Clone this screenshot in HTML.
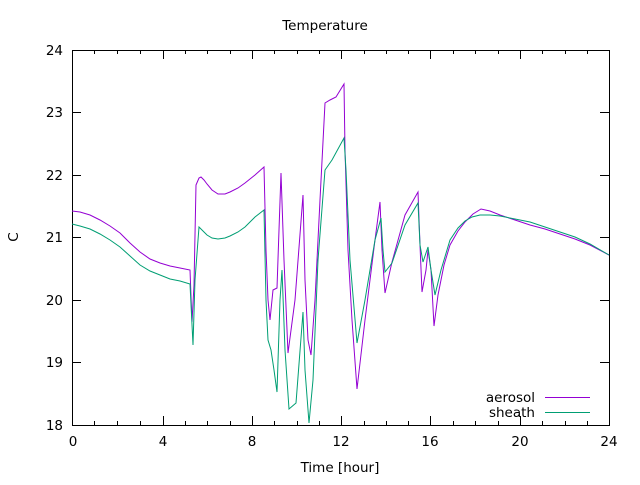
<!DOCTYPE html><html><head><style>body{margin:0;background:#fff}svg{font-family:"DejaVu Sans","Liberation Sans",sans-serif}</style></head><body>
<svg width="640" height="480" viewBox="0 0 640 480" font-size="13.5">
<rect width="640" height="480" fill="#fff"/>
<g stroke="#000" stroke-width="1" fill="none">
<rect x="72.5" y="50.5" width="537" height="375"/>
<path d="M72 50.5h9M72 112.5h9M72 175.5h9M72 237.5h9M72 300.5h9M72 362.5h9M609 50.5h-9M609 112.5h-9M609 175.5h-9M609 237.5h-9M609 300.5h-9M609 362.5h-9"/>
<path d="M163.5 425v-9M252.5 425v-9M341.5 425v-9M430.5 425v-9M520.5 425v-9M163.5 50v9M252.5 50v9M341.5 50v9M430.5 50v9M520.5 50v9"/>
<path d="M94.5 425v-4M117.5 425v-4M140.5 425v-4M185.5 425v-4M207.5 425v-4M230.5 425v-4M274.5 425v-4M297.5 425v-4M319.5 425v-4M364.5 425v-4M386.5 425v-4M408.5 425v-4M453.5 425v-4M475.5 425v-4M498.5 425v-4M542.5 425v-4M565.5 425v-4M587.5 425v-4M94.5 50v4M117.5 50v4M140.5 50v4M185.5 50v4M207.5 50v4M230.5 50v4M274.5 50v4M297.5 50v4M319.5 50v4M364.5 50v4M386.5 50v4M408.5 50v4M453.5 50v4M475.5 50v4M498.5 50v4M542.5 50v4M565.5 50v4M587.5 50v4"/>
</g>
<g text-anchor="end"><text x="63" y="55">24</text><text x="63" y="117">23</text><text x="63" y="180">22</text><text x="63" y="242">21</text><text x="63" y="305">20</text><text x="63" y="367">19</text><text x="63" y="430">18</text></g>
<g text-anchor="middle"><text x="73" y="446">0</text><text x="163" y="446">4</text><text x="252" y="446">8</text><text x="341" y="446">12</text><text x="430" y="446">16</text><text x="520" y="446">20</text><text x="609" y="446">24</text>
<text x="325" y="30">Temperature</text><text x="340" y="472">Time [hour]</text>
<text transform="translate(18,237) rotate(-90)">C</text></g>
<polyline fill="none" stroke="#9400d3" stroke-width="1" points="72,211 80,212 90,215 100,220 110,226 120,233 130,243 140,252 150,259 160,263 170,266 180,268 190,270 192,322 194,285 196,185 199,178 201,177 204,180 207,184 212,190 218,194 225,194 230,192 238,188 245,183 255,175 264,167 266,250 268,300 270,320 273,290 277,288 279,230 281,173 284,260 288,353 295,300 303,195 305,280 308,340 311,355 315,300 320,200 325,103 330,100 336,97 344,84 345,150 348,250 352,320 357,389 365,320 375,240 380,202 382,250 385,293 392,262 405,215 418,192 420,245 422,292 426,270 428,250 431,270 434,326 438,295 444,265 450,245 458,231 465,222 473,214 481,209 490,211 500,215 515,220 530,225 545,229 560,234 575,239 590,245 609,255"/>
<polyline fill="none" stroke="#009e73" stroke-width="1" points="72,224 80,226 90,229 100,234 110,240 120,247 130,256 140,265 150,271 160,275 170,279 180,281 190,284 193,345 195,280 199,227 203,231 207,235 212,238 218,239 225,238 230,236 238,232 245,227 255,217 264,210 266,300 268,340 271,350 274,370 277,392 280,300 282,270 285,350 289,409 296,403 303,312 305,370 309,423 313,380 318,260 325,170 332,160 344,138 346,170 350,260 357,343 365,300 375,240 381,218 383,250 385,272 392,263 405,225 418,203 420,245 423,262 428,247 431,270 435,295 441,270 450,240 458,228 465,221 472,217 480,215 490,215 500,216 515,219 530,222 545,227 560,232 575,237 590,244 609,255"/>
<g text-anchor="end"><text x="535" y="402">aerosol</text><text x="535" y="417">sheath</text></g>
<path d="M545 397.5h45" stroke="#9400d3"/><path d="M545 412.5h45" stroke="#009e73"/>
</svg></body></html>
